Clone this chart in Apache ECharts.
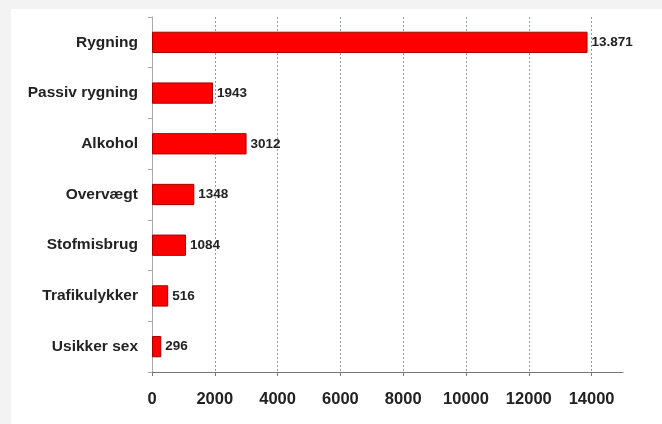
<!DOCTYPE html>
<html>
<head>
<meta charset="utf-8">
<script src="https://cdn.jsdelivr.net/npm/echarts@6/dist/echarts.min.js"></script>
<style>
html,body{margin:0;padding:0;background:#f3f3f3;}
#panel{position:absolute;left:11px;top:9px;width:651px;height:415px;background:#fff;}
#chart{position:absolute;left:0;top:0;width:662px;height:424px;}
</style>
</head>
<body>
<div id="panel"></div>
<div id="chart"></div>
<script>
const categories = ["Rygning", "Passiv rygning", "Alkohol", "Overvægt", "Stofmisbrug", "Trafikulykker", "Usikker sex"];
const values = [13871, 1943, 3012, 1348, 1084, 516, 296];
const xTicks = [0, 2000, 4000, 6000, 8000, 10000, 12000, 14000];

function fmt(v) {
  return v >= 10000 ? String(v).replace(/\B(?=(\d{3})+(?!\d))/g, '.') : String(v);
}

const chart = echarts.init(document.getElementById('chart'), null, {renderer: 'canvas'});
chart.setOption({
  backgroundColor: 'transparent',
  animation: false,
  textStyle: {fontFamily: 'Liberation Sans, Arial, sans-serif'},
  grid: {left: 152, right: 39, top: 17, bottom: 52, containLabel: false},
  xAxis: {
    type: 'value',
    min: 0,
    max: 15000,
    interval: 2000,
    axisLine: {show: true, lineStyle: {color: '#777', width: 1}},
    axisTick: {show: true, length: 4, inside: false, lineStyle: {color: '#777'}},
    axisLabel: {
      show: true, showMaxLabel: false, margin: 19,
      fontSize: 16.5, fontWeight: 'bold', color: '#222',
      formatter: function (v) { return xTicks.indexOf(v) >= 0 ? String(v) : ''; }
    },
    splitLine: {show: true, showMinLine: false, showMaxLine: false, lineStyle: {color: '#999', type: [2, 2], width: 1}}
  },
  yAxis: {
    type: 'category',
    inverse: true,
    data: categories,
    axisLine: {show: true, lineStyle: {color: '#aaa', width: 1}},
    axisTick: {show: true, length: 4, lineStyle: {color: '#aaa'}},
    axisLabel: {margin: 14, fontSize: 15.5, fontWeight: 'bold', color: '#222'},
    splitLine: {show: false}
  },
  series: [{
    type: 'bar',
    data: values,
    barWidth: '42%',
    itemStyle: {color: '#ff0000', borderColor: '#a80000', borderWidth: 1},
    label: {
      show: true, position: 'right', distance: 4,
      fontSize: 13.5, fontWeight: 'bold', color: '#222',
      formatter: function (p) { return fmt(p.value); }
    }
  }]
});
</script>
</body>
</html>
